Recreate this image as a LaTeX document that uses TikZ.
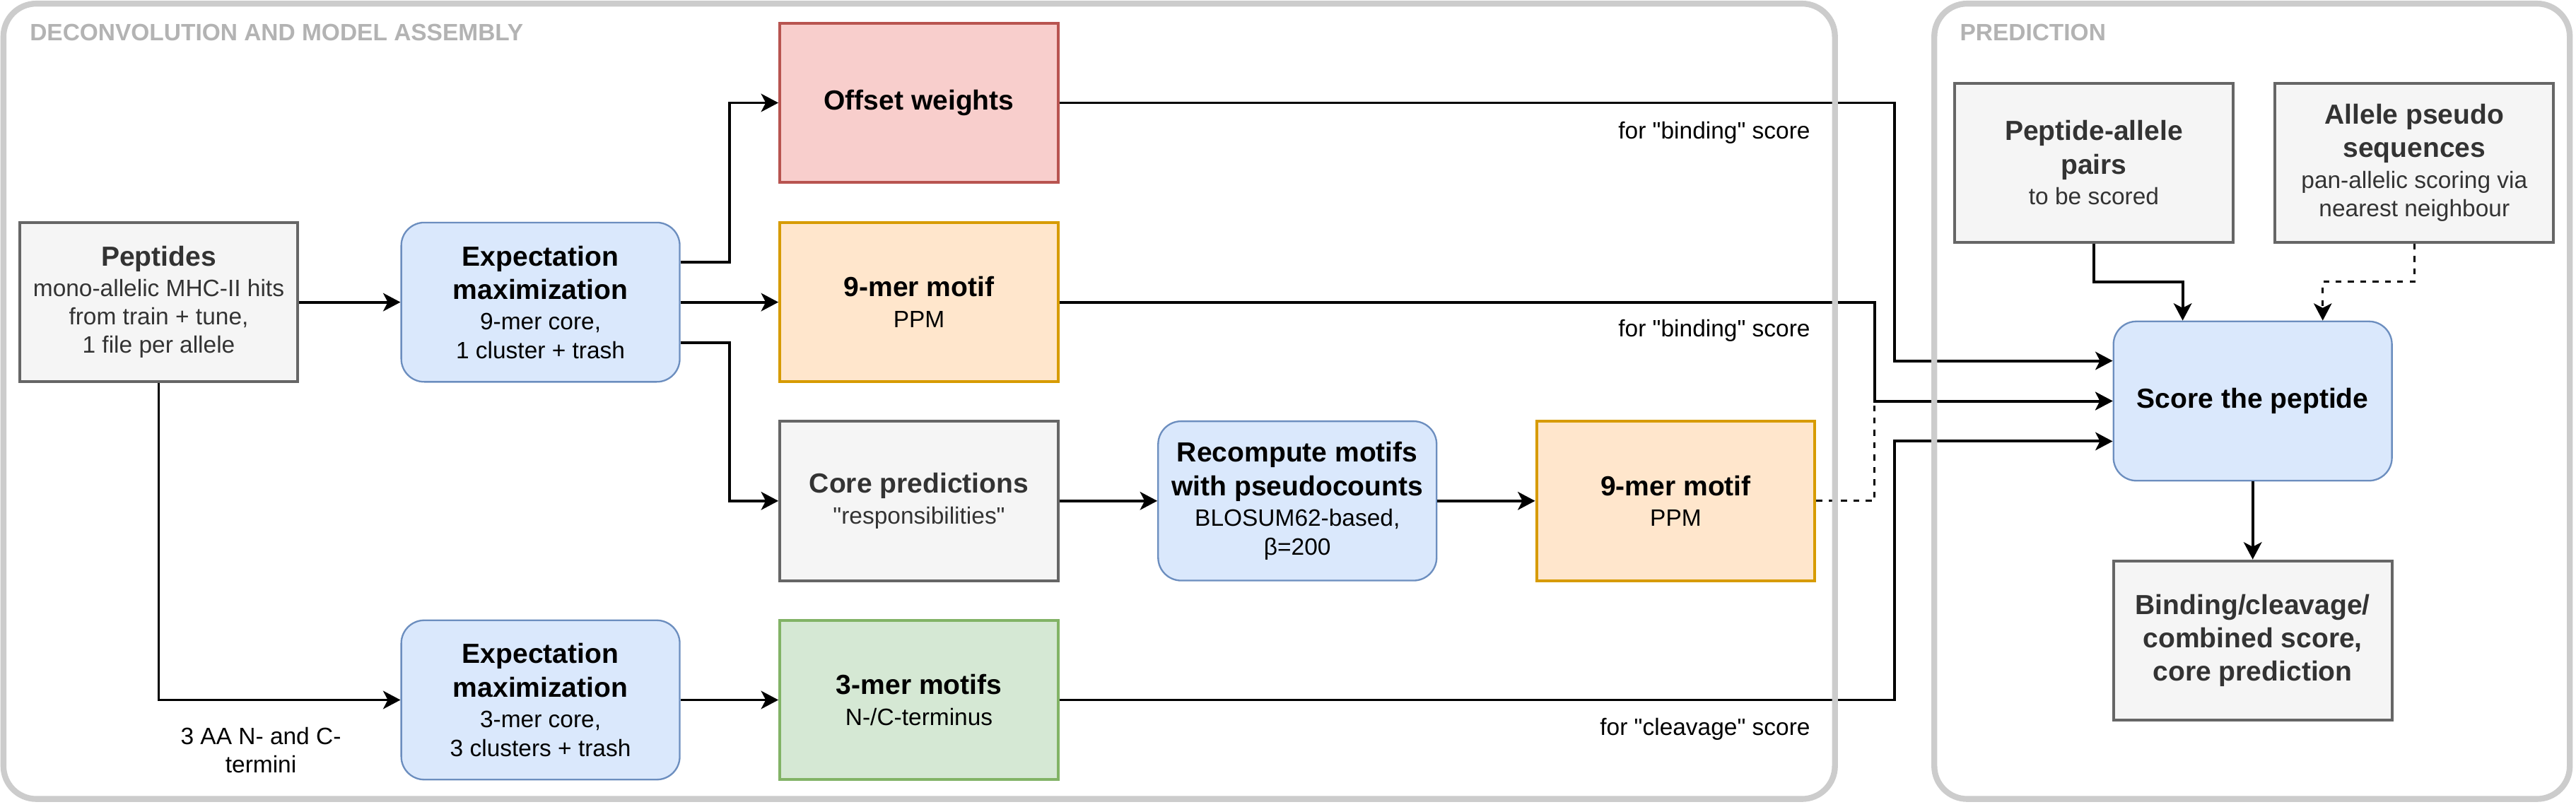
\documentclass[tikz,border=0pt]{standalone}
\usepackage{fontspec}
\setmainfont{Liberation Sans}[Ligatures=TeXOff]
\usetikzlibrary{arrows.meta,calc}
\definecolor{grayfill}{HTML}{F5F5F5}
\definecolor{graystroke}{HTML}{666666}
\definecolor{graytext}{HTML}{333333}
\definecolor{bluefill}{HTML}{DAE8FC}
\definecolor{bluestroke}{HTML}{6C8EBF}
\definecolor{redfill}{HTML}{F8CECC}
\definecolor{redstroke}{HTML}{B85450}
\definecolor{orangefill}{HTML}{FFE6CC}
\definecolor{orangestroke}{HTML}{D79B00}
\definecolor{greenfill}{HTML}{D5E8D4}
\definecolor{greenstroke}{HTML}{82B366}
\definecolor{contstroke}{HTML}{CCCCCC}
\definecolor{titlegray}{HTML}{B3B3B3}
\newcommand\hdr{\fontsize{16.8}{20.2}\selectfont\bfseries}
\begin{document}
\begin{tikzpicture}[x=1pt,y=-1pt,
  box/.style={minimum width=169.5pt,minimum height=97pt,inner sep=0pt,
    align=center,font=\fontsize{14.4}{17.3}\selectfont,line width=1.7pt},
  graybox/.style={box,draw=graystroke,fill=grayfill,text=graytext},
  bluebox/.style={box,draw=bluestroke,fill=bluefill,rounded corners=14pt,line width=1pt},
  redbox/.style={box,draw=redstroke,fill=redfill},
  orangebox/.style={box,draw=orangestroke,fill=orangefill},
  greenbox/.style={box,draw=greenstroke,fill=greenfill},
  conn/.style={line width=1.7pt,-{Stealth[length=10.5pt,width=11pt,inset=2.8pt]}},
  dconn/.style={conn,line width=1.2pt,dash pattern=on 3.6pt off 3.9pt},
  lbl/.style={font=\fontsize{14.4}{17.3}\selectfont,inner sep=0pt,align=center},
  container/.style={draw=contstroke,line width=3.6pt,rounded corners=20pt},
  ctitle/.style={font=\fontsize{14.4}{17.3}\selectfont\bfseries,text=titlegray,inner sep=0pt,anchor=base west}
]
\fill[white] (0,0) rectangle (1568,491);
\useasboundingbox (0,0) rectangle (1568,491);

% nodes
\node[graybox] (pep) at (96.6,184) {{\hdr Peptides}\\[1pt]mono-allelic MHC-II hits\\from train + tune,\\1 file per allele};
\node[bluebox] (em1) at (329,184) {{\hdr Expectation}\\[3pt]{\hdr maximization}\\[1.5pt]9-mer core,\\1 cluster + trash};
\node[redbox] (off) at (559.4,62.6) {{\hdr Offset weights}};
\node[orangebox] (m1) at (559.4,184) {{\hdr 9-mer motif}\\[1.5pt]PPM};
\node[graybox] (core) at (559.4,305) {{\hdr Core predictions}\\[1.5pt]"responsibilities"};
\node[bluebox] (rec) at (789.7,305) {{\hdr Recompute motifs}\\[3pt]{\hdr with pseudocounts}\\[1.5pt]BLOSUM62-based,\\β=200};
\node[orangebox] (m2) at (1020,305) {{\hdr 9-mer motif}\\[1.5pt]PPM};
\node[greenbox] (tm) at (559.4,426.2) {{\hdr 3-mer motifs}\\[1.5pt]N-/C-terminus};
\node[bluebox] (em2) at (329,426.2) {{\hdr Expectation}\\[3pt]{\hdr maximization}\\[1.5pt]3-mer core,\\3 clusters + trash};
\node[bluebox] (score) at (1371.2,244.2) {{\hdr Score the peptide}};
\node[graybox] (pap) at (1274.5,99.1) {{\hdr Peptide-allele}\\[3pt]{\hdr pairs}\\[1.5pt]to be scored};
\node[graybox] (aps) at (1469.6,99.1) {{\hdr Allele pseudo}\\[3pt]{\hdr sequences}\\[1.5pt]pan-allelic scoring via\\nearest neighbour};
\node[graybox] (bind) at (1371.2,390) {{\hdr Binding/cleavage/}\\[3pt]{\hdr combined score,}\\[3pt]{\hdr core prediction}};

% helper coordinates
\coordinate (jx1) at (444,0);
\coordinate (jx2) at (1141,0);
\coordinate (jx3) at (1153,0);
\coordinate (jy) at (0,171.6);
\coordinate (e25) at ($(em1.north east)!0.25!(em1.south east)$);
\coordinate (e75) at ($(em1.north east)!0.75!(em1.south east)$);
\coordinate (s25) at ($(score.north west)!0.25!(score.south west)$);
\coordinate (s75) at ($(score.north west)!0.75!(score.south west)$);
\coordinate (n25) at ($(score.north west)!0.25!(score.north east)$);
\coordinate (n75) at ($(score.north west)!0.75!(score.north east)$);

% connectors
\draw[conn] (pep.east) -- (em1.west);
\draw[conn] (pep.south) |- (em2.west);
\draw[conn] (em1.east) -- (m1.west);
\draw[conn] (e25) -| (jx1 |- off.west) -- (off.west);
\draw[conn] (e75) -| (jx1 |- core.west) -- (core.west);
\draw[conn] (core.east) -- (rec.west);
\draw[conn] (rec.east) -- (m2.west);
\draw[conn] (em2.east) -- (tm.west);
\draw[dconn] (m2.east) -| (jx2 |- score.west) -- (score.west);
\draw[conn] (m1.east) -| (jx2 |- score.west) -- (score.west);
\draw[conn] (off.east) -| (jx3 |- s25) -- (s25);
\draw[conn] (tm.east) -| (jx3 |- s75) -- (s75);
\draw[conn] (pap.south) -- (pap.south |- jy) -| (n25);
\draw[dconn] (aps.south) -- (aps.south |- jy) -| (n75);
\draw[conn] (score.south) -- (bind.north);

% labels
\node[lbl,anchor=east] (l1) at (1102,80.7) {for "binding" score};
\node[lbl,anchor=east] (l2) at (1102,201.2) {for "binding" score};
\node[lbl,anchor=east] (l3) at (1102,444.2) {for "cleavage" score};
\node[lbl] (l4) at (158.8,456.6) {3 AA N- and C-\\termini};

% containers
\draw[container] (2.1,2.2) rectangle (1116.9,486.5);
\draw[container] (1177.4,2.2) rectangle (1564.2,486.5);
\node[ctitle] (t1) at (18,24.7) {DECONVOLUTION AND MODEL ASSEMBLY};
\node[ctitle] (t2) at (1192.8,24.7) {PREDICTION};
\end{tikzpicture}
\end{document}
